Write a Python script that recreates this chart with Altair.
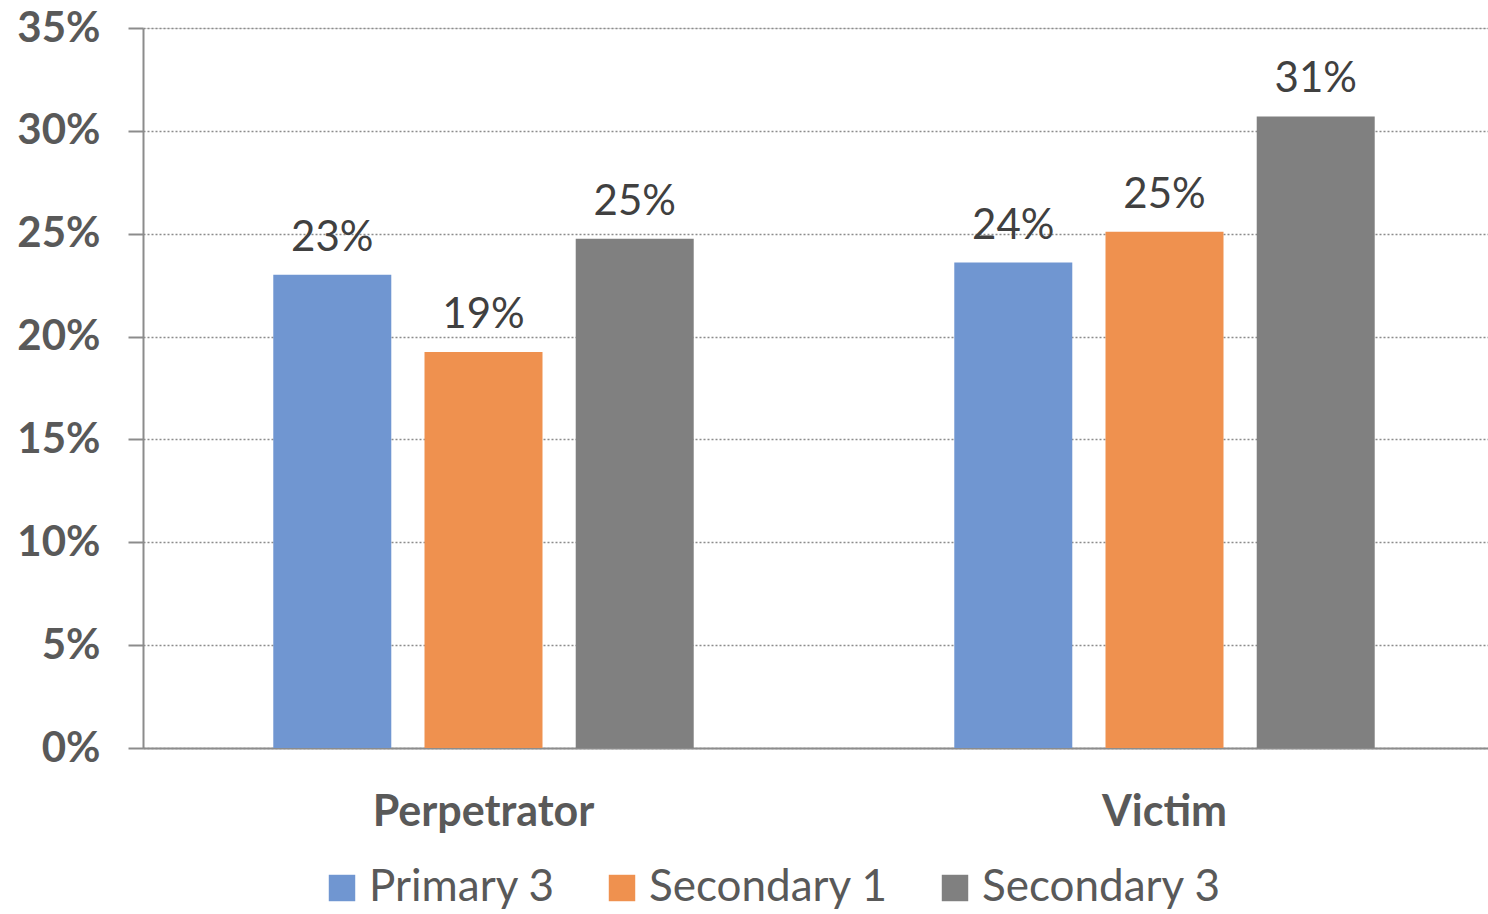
import altair as alt
import pandas as pd

categories = ["Perpetrator", "Victim"]
series = ["Primary 3", "Secondary 1", "Secondary 3"]
perpetrator_values = [0.230, 0.1925, 0.2475]
victim_values = [0.236, 0.251, 0.307]
colors = ["#7096D1", "#EF914F", "#808080"]

rows = []
for s, v in zip(series, perpetrator_values):
    rows.append({"group": "Perpetrator", "series": s, "value": v})
for s, v in zip(series, victim_values):
    rows.append({"group": "Victim", "series": s, "value": v})
df = pd.DataFrame(rows)

FONT = "Lato"
W, H = 1345, 720

x_enc = alt.X("group:N", sort=categories,
              scale=alt.Scale(range=[0, 1362], paddingInner=0, paddingOuter=0),
              axis=alt.Axis(title=None, labelAngle=0, domain=True, domainColor="#8c8c8c",
                            domainWidth=2, ticks=False, labelFont=FONT, labelFontSize=43,
                            labelFontWeight="bold", labelColor="#595959", labelPadding=43,
                            labelLimit=600))
xo_enc = alt.XOffset("series:N", sort=series,
                     scale=alt.Scale(paddingInner=0.2185, paddingOuter=0.861))
y_enc = alt.Y("value:Q",
              scale=alt.Scale(domain=[0, 0.35], nice=False),
              axis=alt.Axis(title=None, format=".0%", values=[0, 0.05, 0.1, 0.15, 0.2, 0.25, 0.3, 0.35],
                            grid=True, gridDash=[2, 2], gridColor="#8c8c8c", gridWidth=1.5,
                            domain=True, domainColor="#8c8c8c", domainWidth=2,
                            ticks=True, tickSize=15, tickColor="#8c8c8c", tickWidth=2,
                            labelFont=FONT, labelFontSize=42, labelFontWeight="bold",
                            labelColor="#595959", labelPadding=28))
color_enc = alt.Color("series:N", sort=series,
                      scale=alt.Scale(domain=series, range=colors),
                      legend=alt.Legend(title=None, orient="none", direction="horizontal",
                                        legendX=177, legendY=838,
                                        symbolType="square", symbolSize=700,
                                        symbolStrokeWidth=0, symbolOpacity=1,
                                        labelFont=FONT, labelFontSize=44, labelColor="#595959",
                                        labelOffset=5, columnPadding=44, labelLimit=400))

base = alt.Chart(df)
bars = base.mark_bar(size=118, opacity=1).encode(x=x_enc, xOffset=xo_enc, y=y_enc, color=color_enc)
labels = base.mark_text(baseline="alphabetic", dy=-24, font=FONT, fontSize=42,
                        color="#404040").encode(
    x=alt.X("group:N", sort=categories), xOffset=alt.XOffset("series:N", sort=series),
    y="value:Q", text=alt.Text("value:Q", format=".0%"))

chart = alt.layer(bars, labels).properties(
    width=W, height=H,
    autosize=alt.AutoSizeParams(type="none"),
    padding={"left": 143, "top": 28, "right": 0, "bottom": 166},
).configure_view(stroke=None).configure(background="white")

chart.save("out.html", embed_options={"renderer": "svg", "actions": False})
